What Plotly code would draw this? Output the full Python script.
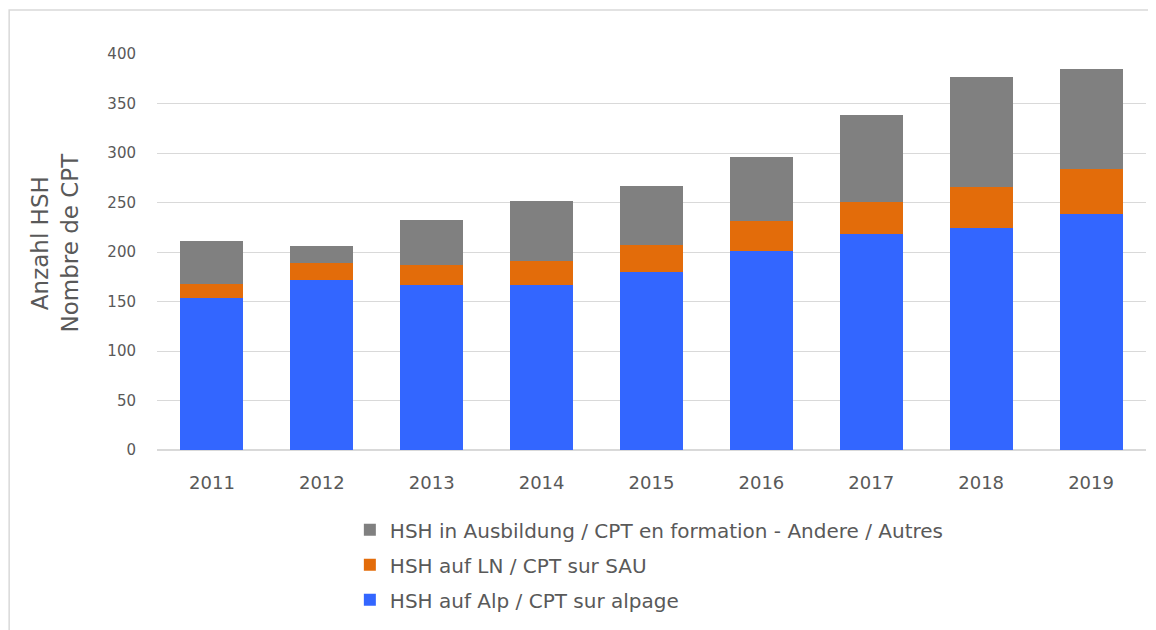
import plotly.graph_objects as go

years = ["2011", "2012", "2013", "2014", "2015", "2016", "2017", "2018", "2019"]
alp = [154, 172, 167, 167, 180, 201, 218, 224, 238]
ln = [14, 17, 20, 24, 27, 30, 33, 42, 46]
andere = [43, 17, 45, 61, 60, 65, 87, 111, 101]

names = [
    "HSH auf Alp / CPT sur alpage",
    "HSH auf LN / CPT sur SAU",
    "HSH in Ausbildung / CPT en formation - Andere / Autres",
]
colors = ["#3366FF", "#E36C0A", "#808080"]

FONT = "DejaVu Sans"
TXT = "#595959"

fig = go.Figure()
for i, (vals, name, col) in enumerate(zip([alp, ln, andere], names, colors)):
    # legend lists the top segment first
    fig.add_trace(go.Bar(x=years, y=vals, name=name, marker_color=col,
                         marker_line_width=0, legendgroup=str(i),
                         legendrank=3 - i))

fig.update_layout(
    barmode="stack",
    bargap=0.427,
    width=1156, height=630,
    margin=dict(l=148.5, r=17.5, t=46, b=188),
    plot_bgcolor="white", paper_bgcolor="white",
    font=dict(family=FONT, color=TXT, size=15),
    legend=dict(orientation="v", traceorder="grouped", x=0.195, y=-0.152,
                xanchor="left", yanchor="top", font=dict(size=20, color=TXT),
                tracegroupgap=6, itemclick=False),
    xaxis=dict(showgrid=False, showline=False, ticks="", ticklabelstandoff=20,
               tickfont=dict(size=18)),
    yaxis=dict(range=[0, 400], dtick=50, gridcolor="#D9D9D9", gridwidth=1,
               zeroline=True, zerolinecolor="#D9D9D9", showline=False,
               ticklabelstandoff=20, tickfont=dict(size=15)),
    annotations=[dict(text="Anzahl HSH<br>Nombre de CPT", textangle=-90,
                      xref="paper", yref="paper", x=-0.1035, y=0.523,
                      xanchor="center", yanchor="middle",
                      showarrow=False, font=dict(size=23, color=TXT))],
    shapes=[dict(type="rect", xref="paper", yref="paper",
                 x0=(0.5 - 148.5) / 990, x1=1.1, y0=-0.6, y1=(442 - 2) / 396,
                 line=dict(color="#D9D9D9", width=1.5), layer="below")],
)

fig.write_html("out.html")
